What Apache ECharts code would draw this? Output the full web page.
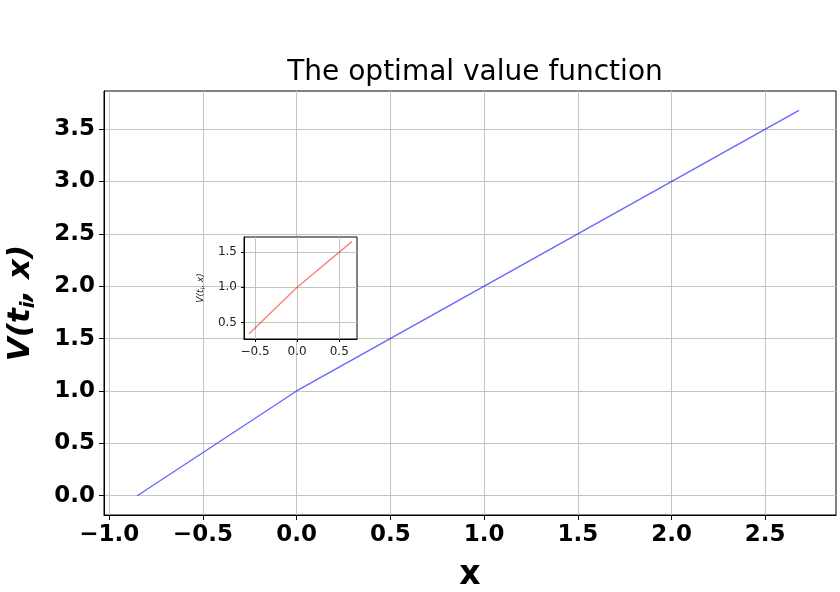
<!DOCTYPE html>
<html>
<head>
<meta charset="utf-8">
<script src="https://cdn.jsdelivr.net/npm/echarts@6/dist/echarts.min.js"></script>
<style>
  html, body { margin: 0; padding: 0; background: #fff; }
  #chart { width: 840px; height: 592px; }
</style>
</head>
<body>
<div id="chart"></div>
<script>
// main curve V(t_i, x)
const mainX = [-0.85, 0.0, 2.68];
const mainY = [0.0, 1.0, 3.68];
// inset curve (zoom near x = 0)
const insetX = [-0.57, 0.0, 0.65];
const insetY = [0.34, 1.0, 1.65];

const mainXTicks = [-1.0, -0.5, 0.0, 0.5, 1.0, 1.5, 2.0, 2.5];
const mainYTicks = [0.0, 0.5, 1.0, 1.5, 2.0, 2.5, 3.0, 3.5];
const insetXTicks = [-0.5, 0.0, 0.5];
const insetYTicks = [0.5, 1.0, 1.5];

const fmt = v => (v < 0 ? "\u2212" + Math.abs(v).toFixed(1) : v.toFixed(1));
const pairs = (xs, ys) => xs.map((x, i) => [x, ys[i]]);

const gridCol = "#c4c4c4";
const chart = echarts.init(document.getElementById("chart"));

const option = {
    backgroundColor: "#fff",
    animation: false,
    title: {
        text: "The optimal value function",
        left: 470,
        textAlign: "center",
        top: 54,
        textStyle: { fontFamily: "DejaVu Sans", fontSize: 28, fontWeight: "normal", color: "#000" }
    },
    grid: [
        { left: 104, top: 91, width: 732, height: 424, show: true, borderColor: "#000", borderWidth: 1,
          backgroundColor: "transparent", outerBoundsMode: "none", containLabel: false },
        { left: 244, top: 237, width: 113, height: 102, show: true, borderColor: "#000", borderWidth: 1,
          backgroundColor: "#fff", z: 5, outerBoundsMode: "none", containLabel: false }
    ],
    xAxis: [
        {
            type: "value", gridIndex: 0, min: -1.0275, max: 2.8775,
            name: "x", nameLocation: "middle", nameGap: 44,
            nameTextStyle: { fontFamily: "DejaVu Sans", fontSize: 33, fontWeight: "bold", color: "#000" },
            axisLine: { onZero: false, lineStyle: { color: "#000" } },
            axisTick: { customValues: mainXTicks, length: 5, lineStyle: { color: "#000" } },
            axisLabel: { customValues: mainXTicks, formatter: fmt, margin: 9,
                fontFamily: "DejaVu Sans", fontSize: 23, fontWeight: "bold", color: "#000" },
            splitLine: { show: true, lineStyle: { color: gridCol, width: 1 } }
        },
        {
            type: "value", gridIndex: 1, min: -0.631, max: 0.711, z: 5,
            axisLine: { onZero: false, lineStyle: { color: "#000" } },
            axisTick: { customValues: insetXTicks, length: 3, lineStyle: { color: "#000" } },
            axisLabel: { customValues: insetXTicks, formatter: fmt, margin: 7,
                fontFamily: "DejaVu Sans", fontSize: 12, color: "#222" },
            splitLine: { show: true, lineStyle: { color: gridCol, width: 1 } }
        }
    ],
    yAxis: [
        {
            type: "value", gridIndex: 0, min: -0.184, max: 3.864,
            name: "{a|V(t}{s|i}{a|, x)}", nameLocation: "middle", nameGap: 65, nameRotate: 90,
            nameTextStyle: {
                rich: {
                    a: { fontFamily: "DejaVu Sans", fontSize: 31, fontStyle: "italic", fontWeight: "bold", color: "#000", lineHeight: 36 },
                    s: { fontFamily: "DejaVu Sans", fontSize: 20, fontStyle: "italic", fontWeight: "bold", color: "#000", lineHeight: 20, verticalAlign: "bottom" }
                }
            },
            axisLine: { show: true, onZero: false, lineStyle: { color: "#000" } },
            axisTick: { show: true, customValues: mainYTicks, length: 5, lineStyle: { color: "#000" } },
            axisLabel: { customValues: mainYTicks, formatter: fmt, margin: 9,
                fontFamily: "DejaVu Sans", fontSize: 23, fontWeight: "bold", color: "#000" },
            splitLine: { show: true, lineStyle: { color: gridCol, width: 1 } }
        },
        {
            type: "value", gridIndex: 1, min: 0.264, max: 1.716, z: 5,
            name: "{a|V(t}{s|i}{a|, x)}", nameLocation: "middle", nameGap: 38, nameRotate: 90,
            nameTextStyle: {
                rich: {
                    a: { fontFamily: "DejaVu Sans", fontSize: 9, fontStyle: "italic", color: "#222", lineHeight: 11 },
                    s: { fontFamily: "DejaVu Sans", fontSize: 6, fontStyle: "italic", color: "#222", lineHeight: 6, verticalAlign: "bottom" }
                }
            },
            axisLine: { show: true, onZero: false, lineStyle: { color: "#000" } },
            axisTick: { show: true, customValues: insetYTicks, length: 3, lineStyle: { color: "#000" } },
            axisLabel: { customValues: insetYTicks, formatter: fmt, margin: 7,
                fontFamily: "DejaVu Sans", fontSize: 12, color: "#222" },
            splitLine: { show: true, lineStyle: { color: gridCol, width: 1 } }
        }
    ],
    series: [
        {
            type: "line", xAxisIndex: 0, yAxisIndex: 0,
            data: pairs(mainX, mainY),
            showSymbol: false,
            lineStyle: { color: "rgba(0,0,255,0.6)", width: 1.4 }
        },
        {
            type: "line", xAxisIndex: 1, yAxisIndex: 1, z: 6,
            data: pairs(insetX, insetY),
            showSymbol: false,
            lineStyle: { color: "rgba(255,0,0,0.5)", width: 1.4 }
        }
    ]
};
chart.setOption(option);
</script>
</body>
</html>
